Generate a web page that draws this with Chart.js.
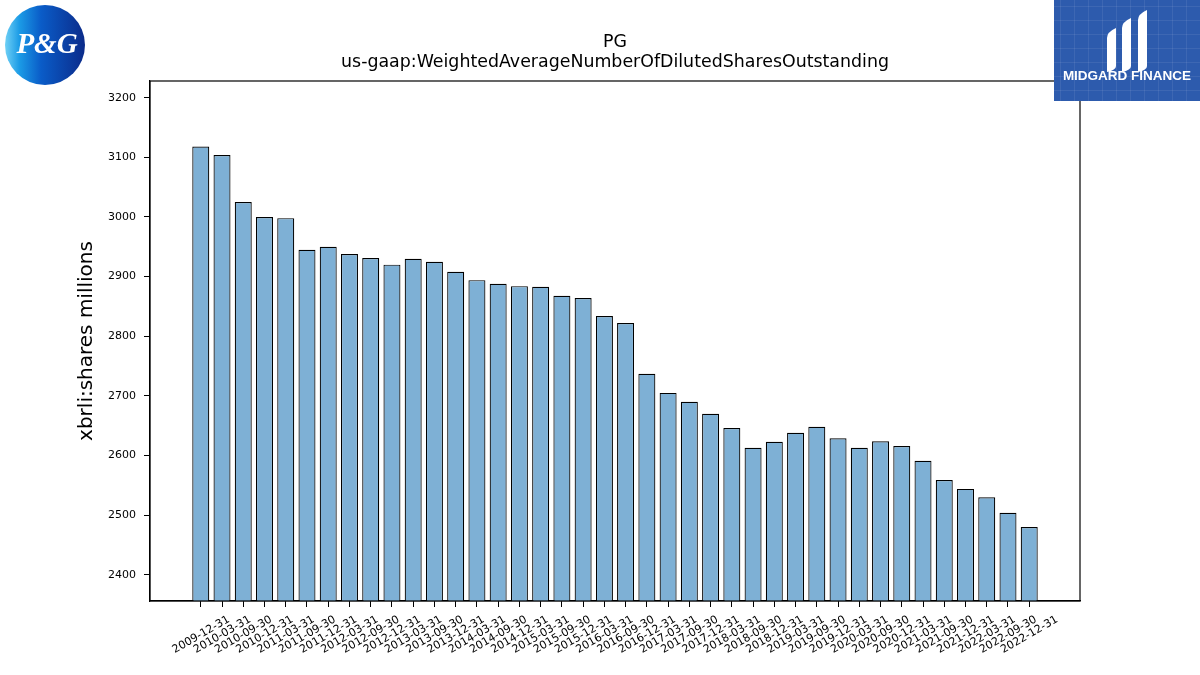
<!DOCTYPE html>
<html>
<head>
<meta charset="utf-8">
<script src="https://cdn.jsdelivr.net/npm/chart.js@4"></script>
<style>
  html, body { margin: 0; padding: 0; background: #fff; }
  #wrap { width: 1200px; height: 675px; position: relative; }
</style>
</head>
<body>
<div id="wrap"><canvas id="chart"></canvas></div>
<script>
(function () {
    "use strict";

    const periods = [
        "2009-12-31", "2010-03-31", "2010-09-30", "2010-12-31", "2011-03-31",
        "2011-09-30", "2011-12-31", "2012-03-31", "2012-09-30", "2012-12-31",
        "2013-03-31", "2013-09-30", "2013-12-31", "2014-03-31", "2014-09-30",
        "2014-12-31", "2015-03-31", "2015-09-30", "2015-12-31", "2016-03-31",
        "2016-09-30", "2016-12-31", "2017-03-31", "2017-09-30", "2017-12-31",
        "2018-03-31", "2018-09-30", "2018-12-31", "2019-03-31", "2019-09-30",
        "2019-12-31", "2020-03-31", "2020-09-30", "2020-12-31", "2021-03-31",
        "2021-09-30", "2021-12-31", "2022-03-31", "2022-09-30", "2022-12-31",
    ];

    // diluted shares, millions
    const dilutedShares = [
        3118, 3104, 3025, 3000, 2998, 2945, 2950, 2938, 2931, 2920,
        2930, 2925, 2908, 2894, 2888, 2884, 2883, 2868, 2864, 2834,
        2822, 2737, 2705, 2690, 2670, 2646, 2613, 2623, 2638, 2648,
        2629, 2613, 2624, 2616, 2591, 2559, 2544, 2530, 2504, 2480,
    ];

    const yTicks = [2400, 2500, 2600, 2700, 2800, 2900, 3000, 3100, 3200];

    const titleLines = ["PG", "us-gaap:WeightedAverageNumberOfDilutedSharesOutstanding"];

    const FONT = "'DejaVu Sans', sans-serif";

    // box around the plot, titles centred over the plot, and the two logos
    const decorations = {
        id: "decorations",
        afterDraw(chart) {
            const ctx = chart.ctx;
            const a = chart.chartArea;
            ctx.save();
            ctx.strokeStyle = "#000";
            ctx.lineWidth = 1.2;
            ctx.strokeRect(a.left, a.top, a.right - a.left, a.bottom - a.top);

            ctx.fillStyle = "#000";
            ctx.font = "17.4px " + FONT;
            ctx.textAlign = "center";
            ctx.textBaseline = "middle";
            const cx = (a.left + a.right) / 2;
            ctx.fillText(titleLines[0], cx, 42);
            ctx.fillText(titleLines[1], cx, 62);

            // P&G badge
            const g = ctx.createLinearGradient(5, 0, 85, 0);
            g.addColorStop(0, "#6fd0f5");
            g.addColorStop(0.18, "#1b9be6");
            g.addColorStop(0.45, "#0a5cc8");
            g.addColorStop(1, "#0b2b8a");
            ctx.fillStyle = g;
            ctx.beginPath();
            ctx.arc(45, 45, 40, 0, Math.PI * 2);
            ctx.fill();
            ctx.fillStyle = "#fff";
            ctx.font = "italic bold 29px 'Liberation Serif', serif";
            ctx.fillText("P&G", 47, 46);

            // Midgard Finance badge
            ctx.fillStyle = "#2d5bad";
            ctx.fillRect(1054, 0, 146, 101);
            ctx.strokeStyle = "rgba(255,255,255,0.08)";
            ctx.lineWidth = 1;
            for (let x = 1060; x < 1200; x += 14) {
                ctx.beginPath(); ctx.moveTo(x + 0.5, 0); ctx.lineTo(x + 0.5, 101); ctx.stroke();
            }
            for (let y = 6; y < 101; y += 14) {
                ctx.beginPath(); ctx.moveTo(1054, y + 0.5); ctx.lineTo(1200, y + 0.5); ctx.stroke();
            }
            ctx.fillStyle = "#fff";
            const bar = (x0, yTop, yBot, w) => {
                ctx.beginPath();
                ctx.moveTo(x0, yTop + 6);
                ctx.quadraticCurveTo(x0, yTop, x0 + w, yTop - 4);
                ctx.lineTo(x0 + w, yBot - 4);
                ctx.quadraticCurveTo(x0 + w, yBot, x0, yBot + 2);
                ctx.closePath();
                ctx.fill();
            };
            bar(1107, 32, 70, 9);
            bar(1122, 22, 70, 9);
            bar(1138, 14, 70, 9);
            ctx.font = "bold 13.5px 'Liberation Sans', sans-serif";
            ctx.fillText("MIDGARD FINANCE", 1127, 76, 132);
            ctx.restore();
        },
    };

    const ctx = document.getElementById("chart").getContext("2d");

    new Chart(ctx, {
        type: "bar",
        data: {
            datasets: [
                {
                    label: "Diluted shares",
                    data: dilutedShares.map((v, i) => ({ x: i, y: v })),
                    backgroundColor: "#7eb0d5",
                    borderColor: "#000",
                    borderWidth: 1.2,
                    barPercentage: 0.8,
                    categoryPercentage: 1,
                },
            ],
        },
        options: {
            responsive: true,
            maintainAspectRatio: false,
            animation: false,
            layout: {
                padding: { left: 0, right: 120, top: 81, bottom: 0 },
            },
            plugins: {
                legend: { display: false },
                tooltip: { enabled: false },
            },
            scales: {
                x: {
                    type: "linear",
                    min: -2.39,
                    max: 41.39,
                    offset: false,
                    afterBuildTicks: (axis) => {
                        axis.ticks = periods.map((_, i) => ({ value: i }));
                    },
                    afterFit: (axis) => {
                        axis.height = 74;
                    },
                    ticks: {
                        autoSkip: false,
                        minRotation: 30,
                        maxRotation: 30,
                        labelOffset: 28,
                        padding: 6,
                        color: "#000",
                        font: { family: FONT, size: 11 },
                        callback: (value) => periods[value],
                    },
                    grid: {
                        display: true,
                        offset: false,
                        drawOnChartArea: false,
                        drawTicks: true,
                        tickLength: 6,
                        color: "#000",
                    },
                    border: { display: true, color: "#000", width: 1.2 },
                },
                y: {
                    min: 2356,
                    max: 3228,
                    afterBuildTicks: (axis) => {
                        axis.ticks = yTicks.map((v) => ({ value: v }));
                    },
                    afterFit: (axis) => {
                        axis.width = 150;
                    },
                    ticks: {
                        padding: 8,
                        color: "#000",
                        font: { family: FONT, size: 11 },
                        callback: (value) => value,
                    },
                    grid: {
                        display: true,
                        drawOnChartArea: false,
                        drawTicks: true,
                        tickLength: 6,
                        color: "#000",
                    },
                    border: { display: true, color: "#000", width: 1.2 },
                    title: {
                        display: true,
                        text: "xbrli:shares millions",
                        color: "#000",
                        font: { family: FONT, size: 20 },
                        padding: { top: 75, bottom: 0 },
                    },
                },
            },
        },
        plugins: [decorations],
    });
})();
</script>
</body>
</html>
